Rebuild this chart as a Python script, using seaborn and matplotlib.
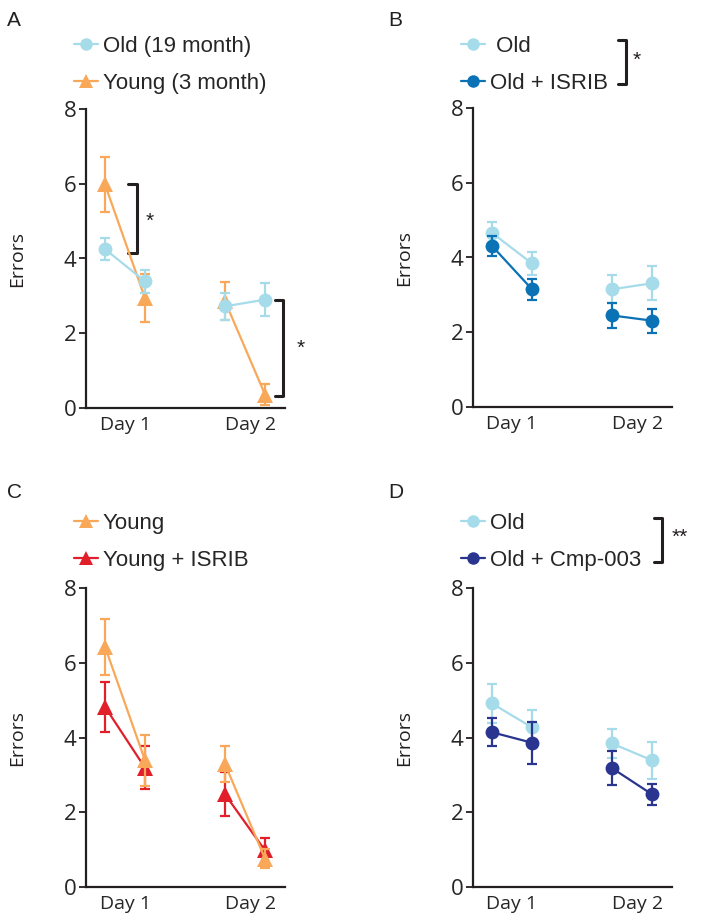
import numpy as np
import pandas as pd
import matplotlib
matplotlib.use('Agg')
import matplotlib.pyplot as plt
import seaborn as sns
from matplotlib.lines import Line2D

# session positions: day 1 (s1, s2), day 2 (s1, s2)
sessions = [0, 1, 3, 4]
day_of_session = ['Day 1', 'Day 1', 'Day 2', 'Day 2']
day_labels = ['Day 1', 'Day 2']
yticks = [0, 2, 4, 6, 8]

# Panel A
a_old_mean = [4.25, 3.39, 2.72, 2.90]
a_old_sem = [0.29, 0.31, 0.37, 0.45]
a_young_mean = [5.98, 2.94, 2.86, 0.36]
a_young_sem = [0.74, 0.65, 0.50, 0.27]

# Panel B
b_old_mean = [4.66, 3.84, 3.15, 3.31]
b_old_sem = [0.29, 0.31, 0.37, 0.46]
b_isrib_mean = [4.31, 3.15, 2.45, 2.31]
b_isrib_sem = [0.27, 0.28, 0.34, 0.32]

# Panel C
c_young_mean = [6.43, 3.39, 3.29, 0.76]
c_young_sem = [0.75, 0.68, 0.49, 0.25]
c_isrib_mean = [4.82, 3.19, 2.48, 0.98]
c_isrib_sem = [0.66, 0.58, 0.59, 0.33]

# Panel D
d_old_mean = [4.91, 4.27, 3.84, 3.39]
d_old_sem = [0.53, 0.47, 0.40, 0.50]
d_cmp_mean = [4.14, 3.86, 3.18, 2.48]
d_cmp_sem = [0.38, 0.56, 0.46, 0.28]

OLD = '#a6dbe9'
YOUNG = '#f9a85a'
ISRIB_B = '#0b72b5'
ISRIB_C = '#e01f2b'
CMP = '#2a3590'
INK = '#231f20'

sns.set_theme(style='ticks')
plt.rcParams['font.family'] = ['Liberation Sans', 'DejaVu Sans']

W, H = 703, 921
fig = plt.figure(figsize=(W / 100, H / 100), dpi=100)


def fx(px):
    return px / W


def fy(py):
    return 1 - py / H


def add_axes(left_px, top_px, right_px, bottom_px):
    return fig.add_axes([fx(left_px), fy(bottom_px), (right_px - left_px) / W, (bottom_px - top_px) / H])


def draw_group(ax, mean, sem, color, marker, z):
    df = pd.DataFrame({'x': sessions, 'y': mean, 'day': day_of_session})
    for day, sub in df.groupby('day'):
        sns.lineplot(data=sub, x='x', y='y', ax=ax, color=color, lw=1.6,
                     marker=marker, markersize=10 if marker == 'o' else 11,
                     markeredgewidth=0, zorder=z)
    ax.errorbar(sessions, mean, yerr=sem, fmt='none', ecolor=color,
                elinewidth=1.6, capsize=3.8, capthick=1.6, zorder=z)


def style_axes(ax):
    ax.set_xlim(-0.475, 4.5)
    ax.set_ylim(0, 8)
    ax.set_yticks(yticks)
    ax.set_yticklabels([str(t) for t in yticks], fontsize=16, family='Open Sans')
    ax.set_xticks([0.5, 3.65])
    ax.set_xticklabels(day_labels, fontsize=14, family='Open Sans')
    ax.tick_params(axis='x', length=0, pad=6)
    ax.tick_params(axis='y', length=5, width=1.3, color=INK, pad=2)
    ax.set_xlabel('')
    ax.set_ylabel('Errors', fontsize=14, family='Open Sans', color=INK)
    ax.yaxis.set_label_coords(-0.30, 0.5)
    sns.despine(ax=ax)
    for s in ['left', 'bottom']:
        ax.spines[s].set_linewidth(1.6)
        ax.spines[s].set_color(INK)
    ax.set_facecolor('none')


def legend(entries, x_px, y_px):
    handles = [Line2D([0], [0], color=c, marker=m, lw=1.6, markersize=9 if m == 'o' else 10,
                      markeredgewidth=0) for c, m, _ in entries]
    labels = [lab for _, _, lab in entries]
    fig.legend(handles, labels, loc='upper left', bbox_to_anchor=(fx(x_px), fy(y_px)),
               frameon=False, fontsize=16, handlelength=1.1, handletextpad=0.2,
               labelspacing=0.7, borderaxespad=0, borderpad=0)


def bracket_fig(x0_px, x1_px, y0_px, y1_px, star, sx_px, sy_px):
    fig.add_artist(Line2D([fx(x0_px), fx(x1_px), fx(x1_px), fx(x0_px)],
                          [fy(y0_px), fy(y0_px), fy(y1_px), fy(y1_px)],
                          color=INK, lw=2.2, transform=fig.transFigure))
    fig.text(fx(sx_px), fy(sy_px), star, fontsize=15, ha='center', va='center', color=INK)


# Panel A
axA = add_axes(86, 109, 285, 408)
draw_group(axA, a_young_mean, a_young_sem, YOUNG, '^', 3)
draw_group(axA, a_old_mean, a_old_sem, OLD, 'o', 4)
style_axes(axA)
axA.plot([0.575, 0.8, 0.8, 0.575], [6.0, 6.0, 4.15, 4.15], color=INK, lw=2.2, clip_on=False)
axA.text(1.12, 5.0, '*', fontsize=15, ha='center', va='center', color=INK)
axA.plot([4.25, 4.45, 4.45, 4.25], [2.9, 2.9, 0.32, 0.32], color=INK, lw=2.2, clip_on=False)
axA.text(4.88, 1.6, '*', fontsize=15, ha='center', va='center', color=INK, clip_on=False)
fig.text(fx(7), fy(20), 'A', fontsize=15, va='center', color=INK)
legend([(OLD, 'o', 'Old (19 month)'), (YOUNG, '^', 'Young (3 month)')], 74, 36)

# Panel B
axB = add_axes(473, 108, 672, 407)
draw_group(axB, b_old_mean, b_old_sem, OLD, 'o', 3)
draw_group(axB, b_isrib_mean, b_isrib_sem, ISRIB_B, 'o', 4)
style_axes(axB)
fig.text(fx(388), fy(20), 'B', fontsize=15, va='center', color=INK)
legend([(OLD, 'o', ' Old'), (ISRIB_B, 'o', 'Old + ISRIB')], 461, 36)
bracket_fig(618, 626, 40, 84, '*', 637, 60)

# Panel C
axC = add_axes(86, 588, 285, 887)
draw_group(axC, c_isrib_mean, c_isrib_sem, ISRIB_C, '^', 3)
draw_group(axC, c_young_mean, c_young_sem, YOUNG, '^', 4)
style_axes(axC)
fig.text(fx(7), fy(492), 'C', fontsize=15, va='center', color=INK)
legend([(YOUNG, '^', 'Young'), (ISRIB_C, '^', 'Young + ISRIB')], 74, 513)

# Panel D
axD = add_axes(473, 588, 672, 887)
draw_group(axD, d_old_mean, d_old_sem, OLD, 'o', 3)
draw_group(axD, d_cmp_mean, d_cmp_sem, CMP, 'o', 4)
style_axes(axD)
fig.text(fx(388), fy(492), 'D', fontsize=15, va='center', color=INK)
legend([(OLD, 'o', 'Old'), (CMP, 'o', 'Old + Cmp-003')], 461, 513)
bracket_fig(654, 662, 518, 562, '**', 680, 537)

fig.savefig('out.png', dpi=100)
